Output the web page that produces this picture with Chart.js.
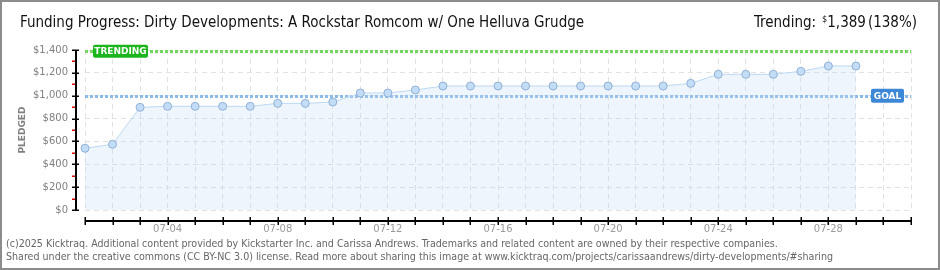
<!DOCTYPE html>
<html>
<head>
<meta charset="utf-8">
<script src="https://cdn.jsdelivr.net/npm/chart.js@4.4.1/dist/chart.umd.min.js"></script>
<style>
    body { margin: 0; background: #fff; }
    #wrap { position: relative; width: 940px; height: 270px; overflow: hidden; }
    #frame { position: absolute; left: 0; top: 0; width: 940px; height: 270px; box-sizing: border-box; border: 2px solid #8c8c8c; pointer-events: none; }
    canvas { position: absolute; left: 0; top: 0; }
    .title { position: absolute; top: 13px; font-family: "DejaVu Sans Condensed", "DejaVu Sans", sans-serif; font-size: 15px; color: #111; white-space: nowrap; }
    #title { left: 20px; }
    #trending { right: 23px; }
    #trending sup { font-size: 9px; vertical-align: 5px; margin-left: 6px; }
    #trending span { margin-left: 2px; }
    .foot { position: absolute; left: 6px; font-family: "DejaVu Sans Condensed", "DejaVu Sans", sans-serif; font-size: 10.6px; color: #666; white-space: nowrap; }
</style>
</head>
<body>
<div id="wrap">
    <canvas id="fundingChart" width="940" height="270"></canvas>
    <div class="title" id="title">Funding Progress: Dirty Developments: A Rockstar Romcom w/ One Helluva Grudge</div>
    <div class="title" id="trending">Trending:<sup>$</sup>1,389<span>(138%)</span></div>
    <div class="foot" style="top:237px">(c)2025 Kicktraq. Additional content provided by Kickstarter Inc. and Carissa Andrews. Trademarks and related content are owned by their respective companies.</div>
    <div class="foot" style="top:250px">Shared under the creative commons (CC BY-NC 3.0) license. Read more about sharing this image at www.kicktraq.com/projects/carissaandrews/dirty-developments/#sharing</div>
    <div id="frame"></div>
</div>
<script>
// days shown on the x axis
const dayLabels = ['07-01', '07-02', '07-03', '07-04', '07-05', '07-06', '07-07', '07-08', '07-09', '07-10',
    '07-11', '07-12', '07-13', '07-14', '07-15', '07-16', '07-17', '07-18', '07-19', '07-20',
    '07-21', '07-22', '07-23', '07-24', '07-25', '07-26', '07-27', '07-28', '07-29', '07-30', '07-31'];

// pledged total per day (07-01 .. 07-29)
const pledged = [540, 575, 898, 907, 907, 907, 907, 933, 933, 945,
    1024, 1024, 1050, 1085, 1085, 1085, 1085, 1085, 1085, 1085,
    1085, 1085, 1108, 1187, 1187, 1187, 1213, 1260, 1260];

const yTicks = [0, 200, 400, 600, 800, 1000, 1200, 1400];
const goalValue = 1000;
const trendingValue = 1389;

// dotted reference line across the plot
function dottedLine(ctx, x1, x2, y, color) {
    ctx.save();
    ctx.strokeStyle = color;
    ctx.lineWidth = 3;
    ctx.setLineDash([3, 2]);
    ctx.beginPath();
    ctx.moveTo(x1, Math.round(y) + 0.5);
    ctx.lineTo(x2, Math.round(y) + 0.5);
    ctx.stroke();
    ctx.restore();
}

function badge(ctx, x, y, w, h, color, text) {
    ctx.save();
    ctx.fillStyle = color;
    ctx.beginPath();
    ctx.roundRect(x, y - h / 2, w, h, 2);
    ctx.fill();
    ctx.fillStyle = '#fff';
    ctx.font = 'bold 9px "DejaVu Sans"';
    ctx.textAlign = 'center';
    ctx.textBaseline = 'middle';
    ctx.fillText(text, x + w / 2, y + 0.5);
    ctx.restore();
}

const kicktraqOverlay = {
    id: 'kicktraqOverlay',
    beforeDatasetsDraw(chart) {
        const { ctx, chartArea, scales: { y } } = chart;
        dottedLine(ctx, chartArea.left, chartArea.right, y.getPixelForValue(goalValue), '#8cbbea');
        dottedLine(ctx, chartArea.left, chartArea.right, y.getPixelForValue(trendingValue), '#74d65e');
    },
    afterDatasetsDraw(chart) {
        const { ctx, chartArea, scales: { x, y } } = chart;

        // y axis line with major black ticks and minor red ticks
        const ax = chartArea.left - 9;
        ctx.save();
        ctx.fillStyle = '#000';
        ctx.fillRect(ax - 1, y.getPixelForValue(1400), 2, y.getPixelForValue(0) - y.getPixelForValue(1400) + 1);
        yTicks.forEach(v => {
            ctx.fillStyle = '#000';
            ctx.fillRect(ax - 4, Math.round(y.getPixelForValue(v)) - 0.5, 7, 1.5);
            if (v < 1400) {
                ctx.fillStyle = '#e00000';
                ctx.fillRect(ax - 4, Math.round(y.getPixelForValue(v + 100)) - 0.5, 3, 1.5);
            }
        });

        // x axis line below the plot
        const ay = chartArea.bottom + 10;
        ctx.fillStyle = '#000';
        ctx.fillRect(x.getPixelForValue(0), ay, x.getPixelForValue(dayLabels.length - 1) - x.getPixelForValue(0) + 1, 2);
        dayLabels.forEach((d, i) => {
            ctx.fillRect(Math.round(x.getPixelForValue(i)) - 0.5, ay - 3, 1.5, 8);
        });
        ctx.restore();

        badge(ctx, chartArea.left + 8, y.getPixelForValue(trendingValue), 55, 13, '#1db51d', 'TRENDING');
        badge(ctx, chartArea.right - 40, y.getPixelForValue(goalValue), 33, 14, '#3d88d6', 'GOAL');
    }
};

const ctx = document.getElementById('fundingChart').getContext('2d');
new Chart(ctx, {
    type: 'line',
    data: {
        labels: dayLabels,
        datasets: [{
            data: pledged,
            borderColor: '#bcd8f5',
            borderWidth: 1,
            backgroundColor: 'rgba(190, 215, 245, 0.26)',
            fill: 'origin',
            tension: 0,
            pointRadius: 4,
            pointBorderWidth: 1,
            pointBackgroundColor: '#c4ddf7',
            pointBorderColor: '#8fb0d6',
            clip: 8
        }]
    },
    options: {
        responsive: false,
        animation: false,
        events: [],
        layout: { padding: { left: 0, right: 29, top: 50, bottom: 0 } },
        plugins: { legend: { display: false }, tooltip: { enabled: false } },
        scales: {
            x: {
                offset: false,
                afterFit: s => { s.height = 60; },
                grid: { color: '#e2e2e2', drawTicks: false },
                border: { display: false, dash: [5, 4] },
                ticks: {
                    autoSkip: false,
                    maxRotation: 0,
                    padding: 13,
                    color: '#9a9a9a',
                    font: { family: 'DejaVu Sans', size: 10 },
                    callback: (v, i) => (i % 4 === 3 ? dayLabels[i] : '')
                }
            },
            y: {
                min: 0,
                max: 1400,
                afterFit: s => { s.width = 85; },
                grid: { color: '#e2e2e2', drawTicks: false },
                border: { display: false, dash: [5, 4] },
                ticks: {
                    stepSize: 200,
                    padding: 17,
                    color: '#808080',
                    font: { family: 'DejaVu Sans', size: 10 },
                    callback: v => '$' + v.toLocaleString('en-US')
                },
                title: {
                    display: true,
                    text: 'PLEDGED',
                    color: '#808080',
                    font: { family: 'DejaVu Sans', size: 9, weight: 'bold' },
                    padding: { top: 17, bottom: 0 }
                }
            }
        }
    },
    plugins: [kicktraqOverlay]
});
</script>
</body>
</html>
